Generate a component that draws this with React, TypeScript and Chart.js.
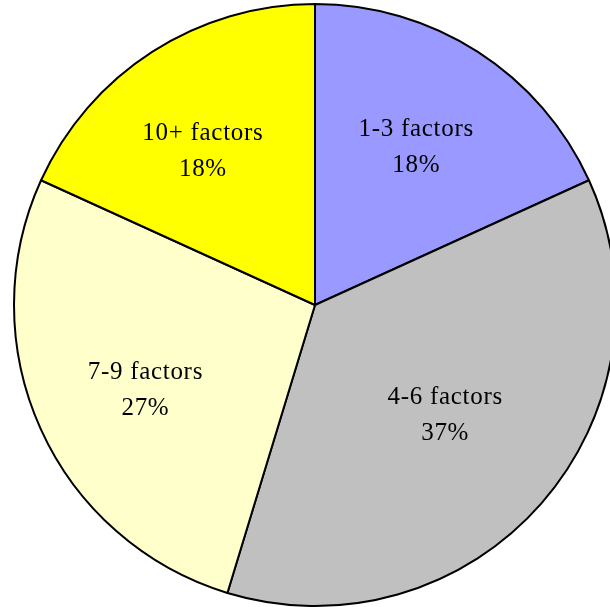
import React, { useEffect, useRef } from "react";
import { Chart, registerables } from "chart.js";

Chart.register(...registerables);

// ---- data ----
const categories = ["1-3 factors", "4-6 factors", "7-9 factors", "10+ factors"];
const shares = [18.2, 36.5, 27.1, 18.2];
const percentLabels = ["18%", "37%", "27%", "18%"];

// ---- styling ----
const sliceColors = ["#9999FF", "#C0C0C0", "#FFFFCC", "#FFFF00"];
const labelRadius = [187, 171, 190, 190];
const labelAngleShiftDeg = [0, -0.8, -2.5, -3.4];

const labelPlugin = {
  id: "sliceLabels",
  afterDatasetsDraw(chart: any) {
    const ctx = chart.ctx;
    const meta = chart.getDatasetMeta(0);
    ctx.save();
    ctx.fillStyle = "#000";
    ctx.font = '25px "Liberation Serif", "Times New Roman", serif';
    try { (ctx as any).letterSpacing = "0.7px"; } catch (e) {}
    ctx.textAlign = "center";
    ctx.textBaseline = "middle";
    meta.data.forEach((arc: any, i: number) => {
      const p = arc.getProps(["x", "y", "startAngle", "endAngle"], true);
      const mid = (p.startAngle + p.endAngle) / 2 + (labelAngleShiftDeg[i] * Math.PI) / 180;
      const cx = p.x + Math.cos(mid) * labelRadius[i];
      const cy = p.y + Math.sin(mid) * labelRadius[i];
      ctx.fillText(categories[i], cx, cy - 18);
      ctx.fillText(percentLabels[i], cx, cy + 18);
    });
    ctx.restore();
  },
};

export default function App() {
  const ref = useRef<HTMLCanvasElement | null>(null);
  useEffect(() => {
    if (!ref.current) return;
    const chart = new Chart(ref.current, {
      type: "pie",
      data: {
        labels: categories,
        datasets: [
          {
            data: shares,
            backgroundColor: sliceColors,
            borderColor: "#000000",
            borderWidth: 2,
            clip: false as any,
          } as any,
        ],
      },
      options: {
        responsive: false,
        animation: false,
        radius: 301,
        layout: { padding: { left: 20, right: 0, top: 3, bottom: 0 } },
        plugins: {
          legend: { display: false },
          tooltip: { enabled: false },
        },
      } as any,
      plugins: [labelPlugin],
    });
    return () => chart.destroy();
  }, []);
  return (
    <div style={{ position: "fixed", left: 0, top: 0, width: 610, height: 607, overflow: "hidden", background: "#fff" }}>
      <canvas ref={ref} width={610} height={607} style={{ display: "block" }} />
    </div>
  );
}
